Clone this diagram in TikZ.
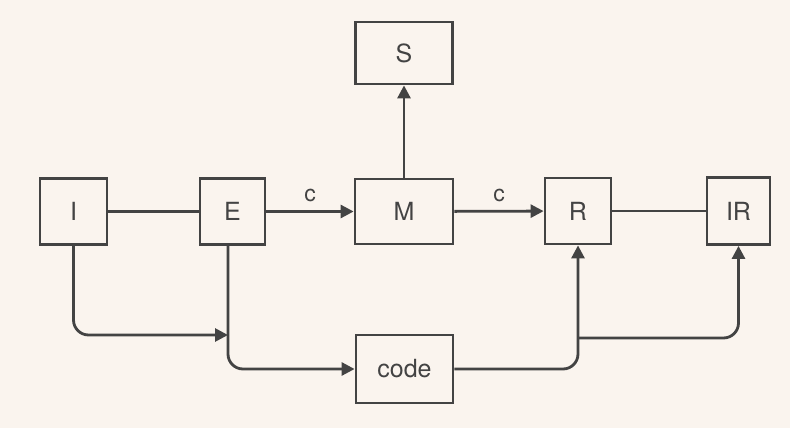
\documentclass[tikz,border=0pt]{standalone}
\usepackage{fontspec}
\setmainfont{TeX Gyre Heros}
\usetikzlibrary{arrows.meta}
\definecolor{bg}{HTML}{FAF4EE}
\definecolor{ink}{HTML}{434343}
\begin{document}
\begin{tikzpicture}[x=1pt,y=-1pt,
  box/.style={draw=ink, line width=2.8pt, inner sep=0pt, text=ink, font=\fontsize{25}{28}\selectfont},
  conn/.style={draw=ink, line width=2.8pt},
  arr/.style={conn, -{Triangle[length=13pt,width=13pt]}},
  lbl/.style={text=ink, font=\fontsize{23}{25}\selectfont, above=5pt}]
\fill[bg] (0,0) rectangle (790,428);
\useasboundingbox (0,0) rectangle (790,428);
\node[box, minimum width=67pt, minimum height=66pt] (I) at (73.5,211.5) {I};
\node[box, minimum width=65pt, minimum height=66pt] (E) at (232.5,211.5) {E};
\node[box, minimum width=98pt, minimum height=65pt] (M) at (404,211.5) {M};
\node[box, minimum width=66pt, minimum height=66pt] (R) at (578,211) {R};
\node[box, minimum width=63pt, minimum height=67pt] (IR) at (738.5,211) {IR};
\node[box, minimum width=97pt, minimum height=62pt] (S) at (404,53) {S};
\node[box, minimum width=97pt, minimum height=68pt] (code) at (404.5,369) {code};
\coordinate (j1) at (228,335);
\coordinate (j2) at (578,338);
\draw[conn] (I) -- (E);
\draw[arr] (E) -- node[lbl] {c} (M);
\draw[arr] (M) -- node[lbl] {c} (R);
\draw[conn] (R) -- (IR);
\draw[arr] (M.north) -- (S.south);
\draw[arr, rounded corners=15pt] (I.south) |- (j1);
\draw[arr, rounded corners=15pt] (E.south -| j1) |- (code.west);
\draw[arr, rounded corners=15pt] (code.east) -| (R.south);
\draw[arr, rounded corners=15pt] (j2) -| (IR.south);
\end{tikzpicture}
\end{document}
